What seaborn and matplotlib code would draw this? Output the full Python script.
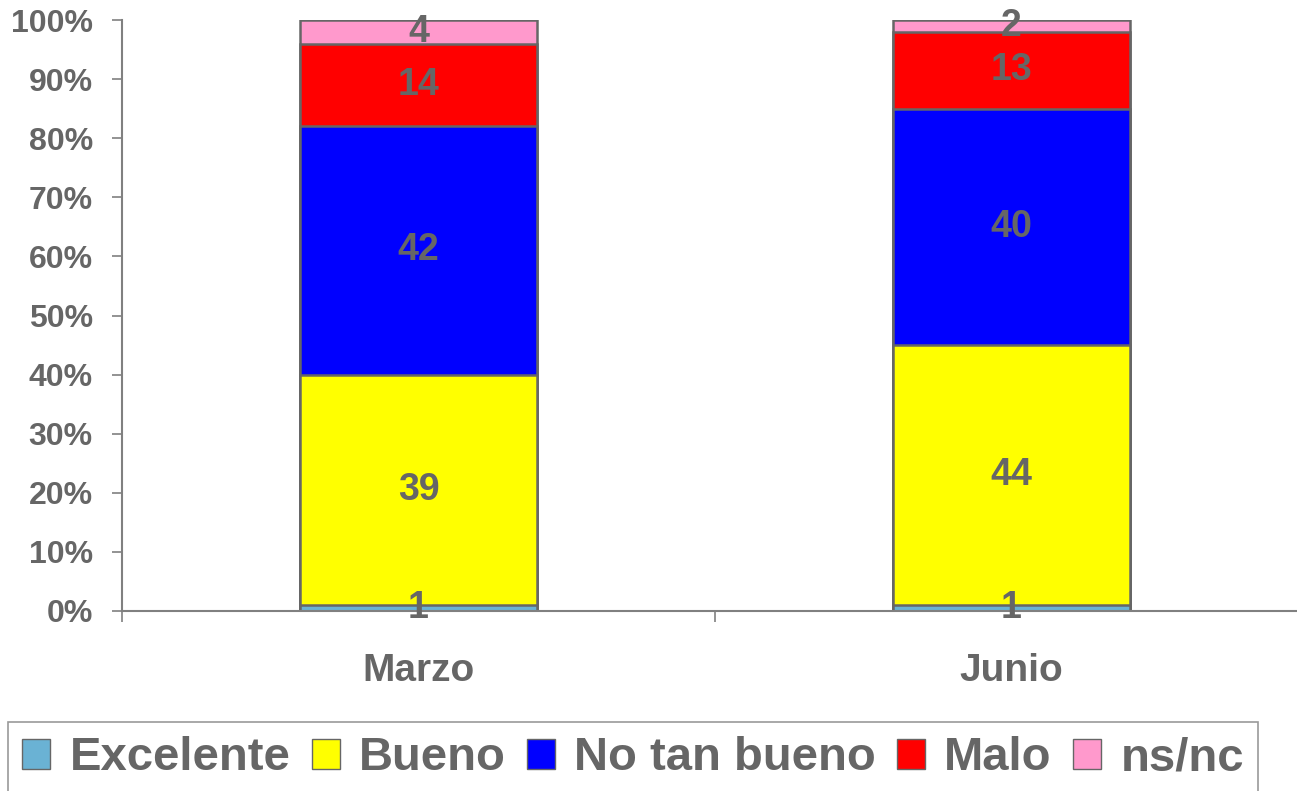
import numpy as np
import pandas as pd
import matplotlib
matplotlib.use("Agg")
import matplotlib.pyplot as plt
import seaborn as sns
from matplotlib.patches import Patch
from matplotlib.ticker import PercentFormatter

# datos
meses = ["Marzo", "Junio"]
categorias = ["Excelente", "Bueno", "No tan bueno", "Malo", "ns/nc"]
excelente = [1, 1]
bueno = [39, 44]
no_tan_bueno = [42, 40]
malo = [14, 13]
nsnc = [4, 2]
colores = ["#6AB2D4", "#FFFF00", "#0000FF", "#FF0000", "#FF99CC"]

gris = "#666666"
sns.set_style("white")
plt.rcParams["font.family"] = ["Liberation Sans", "DejaVu Sans"]
plt.rcParams["font.weight"] = "bold"

valores = np.array([excelente, bueno, no_tan_bueno, malo, nsnc], dtype=float)
total = valores.sum(axis=0)
pct = valores / total  # 100% apilado
acum = pct.cumsum(axis=0)

fig = plt.figure(figsize=(12.97, 7.91), dpi=100)
ax = fig.add_axes([122 / 1297, 1 - 611 / 791, 1186 / 1297, 591 / 791])

# barras apiladas: se dibuja de arriba hacia abajo
for i in reversed(range(len(categorias))):
    df = pd.DataFrame({"mes": meses, "valor": acum[i]})
    sns.barplot(data=df, x="mes", y="valor", color=colores[i], saturation=1,
                width=0.4, edgecolor=gris, linewidth=1.8, ax=ax)

# etiquetas de valor
for j in range(len(meses)):
    for i in range(len(categorias)):
        base = acum[i][j] - pct[i][j]
        ax.text(j, base + pct[i][j] / 2, f"{valores[i][j]:.0f}", ha="center",
                va="center", fontsize=27, fontweight="bold", color=gris)

ax.set_xlim(-0.5, 1.5)
ax.set_ylim(0, 1)
ax.set_yticks(np.arange(0, 1.01, 0.1))
ax.yaxis.set_major_formatter(PercentFormatter(1.0, decimals=0))
ax.set_xlabel("")
ax.set_ylabel("")
for s in ["top", "right"]:
    ax.spines[s].set_visible(False)
for s in ["left", "bottom"]:
    ax.spines[s].set_color("#808080")
    ax.spines[s].set_linewidth(1.5)

ax.tick_params(axis="y", direction="out", length=7, width=1.2, color="#808080",
               pad=14, labelsize=23, labelcolor=gris, left=True)
ax.tick_params(axis="x", which="major", length=0, pad=30, labelsize=28,
               labelcolor=gris)
ax.set_xticks([-0.5, 0.5, 1.5], minor=True)
ax.tick_params(axis="x", which="minor", direction="out", length=8, width=1.2,
               color="#808080", bottom=True)
for t in ax.get_xticklabels() + ax.get_yticklabels():
    t.set_fontweight("bold")

handles = [Patch(facecolor=c, edgecolor=gris, linewidth=1) for c in colores]
leg = fig.legend(handles, categorias, loc="upper left",
                 bbox_to_anchor=(8 / 1297, 1 - 722 / 791), ncol=5,
                 prop={"size": 34, "weight": "bold"}, frameon=True,
                 fancybox=False, handlelength=0.6, handleheight=0.6,
                 handletextpad=0.4, columnspacing=0.45, borderpad=0.3,
                 borderaxespad=0)
leg.get_frame().set_edgecolor("#808080")
leg.get_frame().set_linewidth(1.2)
for t in leg.get_texts():
    t.set_color(gris)

fig.savefig("out.png", dpi=100)
